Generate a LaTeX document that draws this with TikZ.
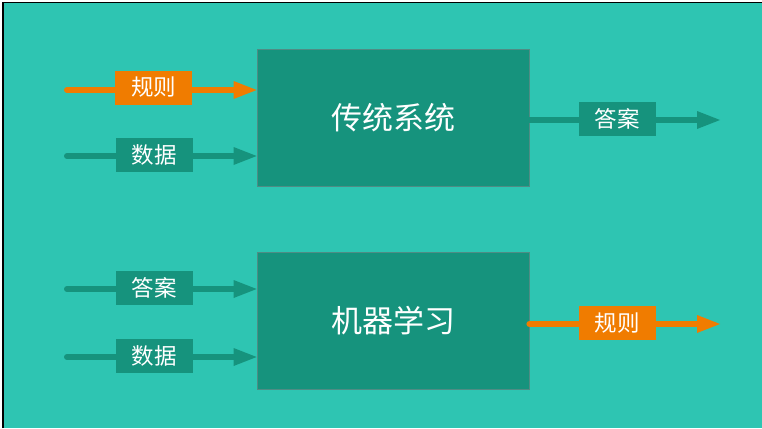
\documentclass[tikz,border=0pt]{standalone}
\usepackage{fontspec}
\newfontfamily\cjk{Noto Sans CJK SC}
\usetikzlibrary{arrows.meta}
\definecolor{bgteal}{HTML}{2EC5B2}
\definecolor{darkteal}{HTML}{16937D}
\definecolor{boxedge}{HTML}{4F8C84}
\definecolor{orangec}{HTML}{F07C00}
\tikzset{
  sysbox/.style={draw=boxedge, line width=0.8pt, fill=darkteal, minimum width=272pt, minimum height=137pt, inner sep=0pt, text=white, font=\cjk\fontsize{31}{36}\selectfont},
  lab/.style={fill=#1, minimum width=77pt, minimum height=34pt, inner sep=0pt, text=white, font=\cjk\fontsize{22.5}{26}\selectfont},
  conn/.style={draw=#1, line width=6pt, line cap=round, -{Triangle[length=23pt,width=18pt,line width=0pt]}}
}
\begin{document}
\begin{tikzpicture}[x=1pt,y=-1pt]
\useasboundingbox (0,0) rectangle (762,428);
\fill[white] (0,0) rectangle (762,428);
\fill[bgteal] (3,3) rectangle (762,428);
\draw[black, line width=1.6pt] (3,428) -- (3,2.5) -- (762,2.5);

\node[sysbox] (b1) at (393,117.5) {传统系统};
\node[sysbox] (b2) at (393,321) {机器学习};

% inputs of top box
\coordinate (s1) at (67,90);
\coordinate (s2) at (67,156);
\coordinate (e1) at (720,120);
\draw[conn=orangec] (s1) -- (s1 -| b1.west);
\draw[conn=darkteal] (s2) -- (s2 -| b1.west);
\draw[conn=darkteal] (b1.east |- e1) -- (e1);
\node[lab=orangec] (l1) at (153.5,87.5) {规则};
\node[lab=darkteal] (l2) at (154,155) {数据};
\node[lab=darkteal] (l3) at (617,118.5) {答案};

% bottom box
\coordinate (s3) at (67,289);
\coordinate (s4) at (67,357);
\coordinate (e2) at (720,324);
\draw[conn=darkteal] (s3) -- (s3 -| b2.west);
\draw[conn=darkteal] (s4) -- (s4 -| b2.west);
\draw[conn=orangec] (b2.east |- e2) -- (e2);
\node[lab=darkteal] (l4) at (154,288) {答案};
\node[lab=darkteal] (l5) at (154,356) {数据};
\node[lab=orangec] (l6) at (617,323) {规则};
\end{tikzpicture}
\end{document}
